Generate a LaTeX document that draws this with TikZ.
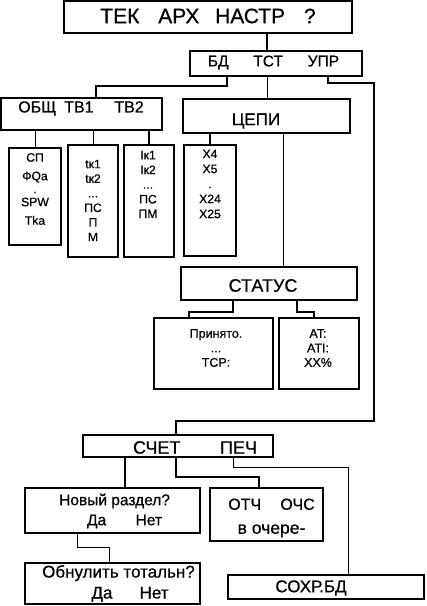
\documentclass[tikz,border=0pt]{standalone}
\usepackage{fontspec}
\setmainfont{Liberation Sans}[FakeBold=0.6]
\usepackage{tikz}
\usetikzlibrary{positioning, calc}

\newcommand{\fsz}[1]{\fontsize{#1}{1.2\dimexpr #1pt\relax}\selectfont}

\begin{document}
\begin{tikzpicture}[x=1pt, y=-1pt,
	box/.style={draw, line width=1.8pt, inner sep=0pt},
	conn/.style={line width=1.6pt},
	thinconn/.style={line width=1pt},
	lbl/.style={inner sep=0pt, align=center}]
			\useasboundingbox (0,0) rectangle (427,606);
			%% boxes
			\node[box, minimum width=288, minimum height=32] (top) at (208,17) {};
			\node[box, minimum width=172, minimum height=25] (menu) at (276,63.5) {};
			\node[box, minimum width=161, minimum height=32] (obsch) at (81.5,114) {};
			\node[box, minimum width=167, minimum height=34] (cepi) at (266.5,116) {};
			\node[box, minimum width=52, minimum height=97] (sp) at (35,196.5) {};
			\node[box, minimum width=50, minimum height=112] (tk) at (93,201) {};
			\node[box, minimum width=50, minimum height=112] (ik) at (149,201) {};
			\node[box, minimum width=52, minimum height=111] (xx) at (210,200.5) {};
			\node[box, minimum width=176, minimum height=33] (status) at (269,283.5) {};
			\node[box, minimum width=119, minimum height=71] (prin) at (213.5,353.5) {};
			\node[box, minimum width=80, minimum height=71] (atb) at (319,353.5) {};
			\node[box, minimum width=190, minimum height=22] (schet) at (178,446) {};
			\node[box, minimum width=175, minimum height=45] (novy) at (112.5,510.5) {};
			\node[box, minimum width=113, minimum height=53] (otch) at (266.5,514.5) {};
			\node[box, minimum width=175, minimum height=41] (obnul) at (112.5,583.5) {};
			\node[box, minimum width=196, minimum height=24] (sohr) at (326,587) {};

			%% texts
			\node[lbl, font=\fsz{21}] (topt) at (208,16) {ТЕК\hspace{0.9em}АРХ\hspace{0.75em}НАСТР\hspace{0.9em}?};
			\node[lbl, font=\fsz{15.5}] (menut) at (273.5,62.5) {БД\hspace{1.6em}ТСТ\hspace{1.6em}УПР};
			\node[lbl, font=\fsz{16}] (obscht) at (81,108.5) {ОБЩ\hspace{0.5em}ТВ1\hspace{1.3em}ТВ2};
			\node[lbl, font=\fsz{17}] (cepit) at (256,121) {ЦЕПИ};
			\node[lbl, font=\fontsize{12.2}{18.5}\selectfont] (spt) at (35,189) {СП\\ФQa\\[-5.5pt].\\[-5.5pt]SPW\\Tka};
			\node[lbl, font=\fontsize{12.2}{14.6}\selectfont] (tkt) at (93,200.5) {tк1\\tк2\\...\\ПС\\П\\М};
			\node[lbl, font=\fontsize{12.2}{14.7}\selectfont] (ikt) at (148,184.5) {Iк1\\Iк2\\...\\ПС\\ПМ};
			\node[lbl, font=\fontsize{12.2}{15}\selectfont] (xxt) at (210,184) {X4\\X5\\.\\X24\\X25};
			\node[lbl, font=\fsz{18}] (statust) at (263,285.5) {СТАТУС};
			\node[lbl, font=\fontsize{12.5}{14.5}\selectfont] (print) at (216,348) {Принято.\\...\\TCP:};
			\node[lbl, font=\fontsize{12.5}{14.5}\selectfont] (atbt) at (318,348) {AT:\\ATI:\\XX\%};
			\node[lbl, font=\fsz{18}] (schett) at (195,447.5) {СЧЕТ\hspace{2.2em}ПЕЧ};
			\node[lbl, font=\fontsize{15.5}{20}\selectfont, align=left, anchor=west] (novyt) at (59,511) {Новый раздел?\\\hspace{1.8em}Да\hspace{1.9em}Нет};
			\node[lbl, font=\fontsize{16}{24}\selectfont] (otcht) at (271.5,518) {ОТЧ\hspace{1.2em}ОЧС\\{\fontsize{17.5}{24}\selectfont в очере-}};
			\node[lbl, font=\fontsize{17}{21}\selectfont, align=left, anchor=west] (obnult) at (42,583.5) {Обнулить тотальн?\\\hspace{2.9em}Да\hspace{1.6em}Нет};
			\node[lbl, font=\fsz{17}] (sohrt) at (311,588) {СОХР.БД};

			%% bend points
			\coordinate (kA) at (267,0);
			\coordinate (kB1) at (227,86);
			\coordinate (kB2) at (96,86);
			\coordinate (kD1) at (328,83);
			\coordinate (kD2) at (374,83);
			\coordinate (kD3) at (374,421);
			\coordinate (kD4) at (176,421);
			\coordinate (kC) at (283,0);
			\coordinate (kS1) at (233,312);
			\coordinate (kS2) at (189,312);
			\coordinate (kT1) at (297,312);
			\coordinate (kT2) at (314,312);
			\coordinate (kN) at (125,0);
			\coordinate (kO1) at (176,477);
			\coordinate (kO2) at (259,477);
			\coordinate (kR1) at (233,467);
			\coordinate (kR2) at (348,467);
			\coordinate (kU1) at (77,547);
			\coordinate (kU2) at (109,547);

			%% connectors
			\draw[conn] (top.south -| kA) -- (menu.north -| kA);
			\draw[conn] (menu.south -| kB1) -- (kB1) -- (kB2) -- (obsch.north -| kB2);
			\draw[thinconn] (menu.south -| kA) -- (cepi.north -| kA);
			\draw[conn] (menu.south -| kD1) -- (kD1) -- (kD2) -- (kD3) -- (kD4) -- (schet.north -| kD4);
			\draw[thinconn] (obsch.south -| sp.north) -- (sp.north);
			\draw[thinconn] (obsch.south -| tk.north) -- (tk.north);
			\draw[conn] (obsch.south -| ik.north) -- (ik.north);
			\draw[conn] (cepi.south -| xx.north) -- (xx.north);
			\draw[thinconn] (cepi.south -| kC) -- (status.north -| kC);
			\draw[conn] (status.south -| kS1) -- (kS1) -- (kS2) -- (prin.north -| kS2);
			\draw[conn] (status.south -| kT1) -- (kT1) -- (kT2) -- (atb.north -| kT2);
			\draw[conn] (schet.south -| kN) -- (novy.north -| kN);
			\draw[conn] (schet.south -| kO1) -- (kO1) -- (kO2) -- (otch.north -| kO2);
			\draw[thinconn] (schet.south -| kR1) -- (kR1) -- (kR2) -- (sohr.north -| kR2);
			\draw[thinconn] (novy.south -| kU1) -- (kU1) -- (kU2) -- (obnul.north -| kU2);
\end{tikzpicture}
\end{document}
